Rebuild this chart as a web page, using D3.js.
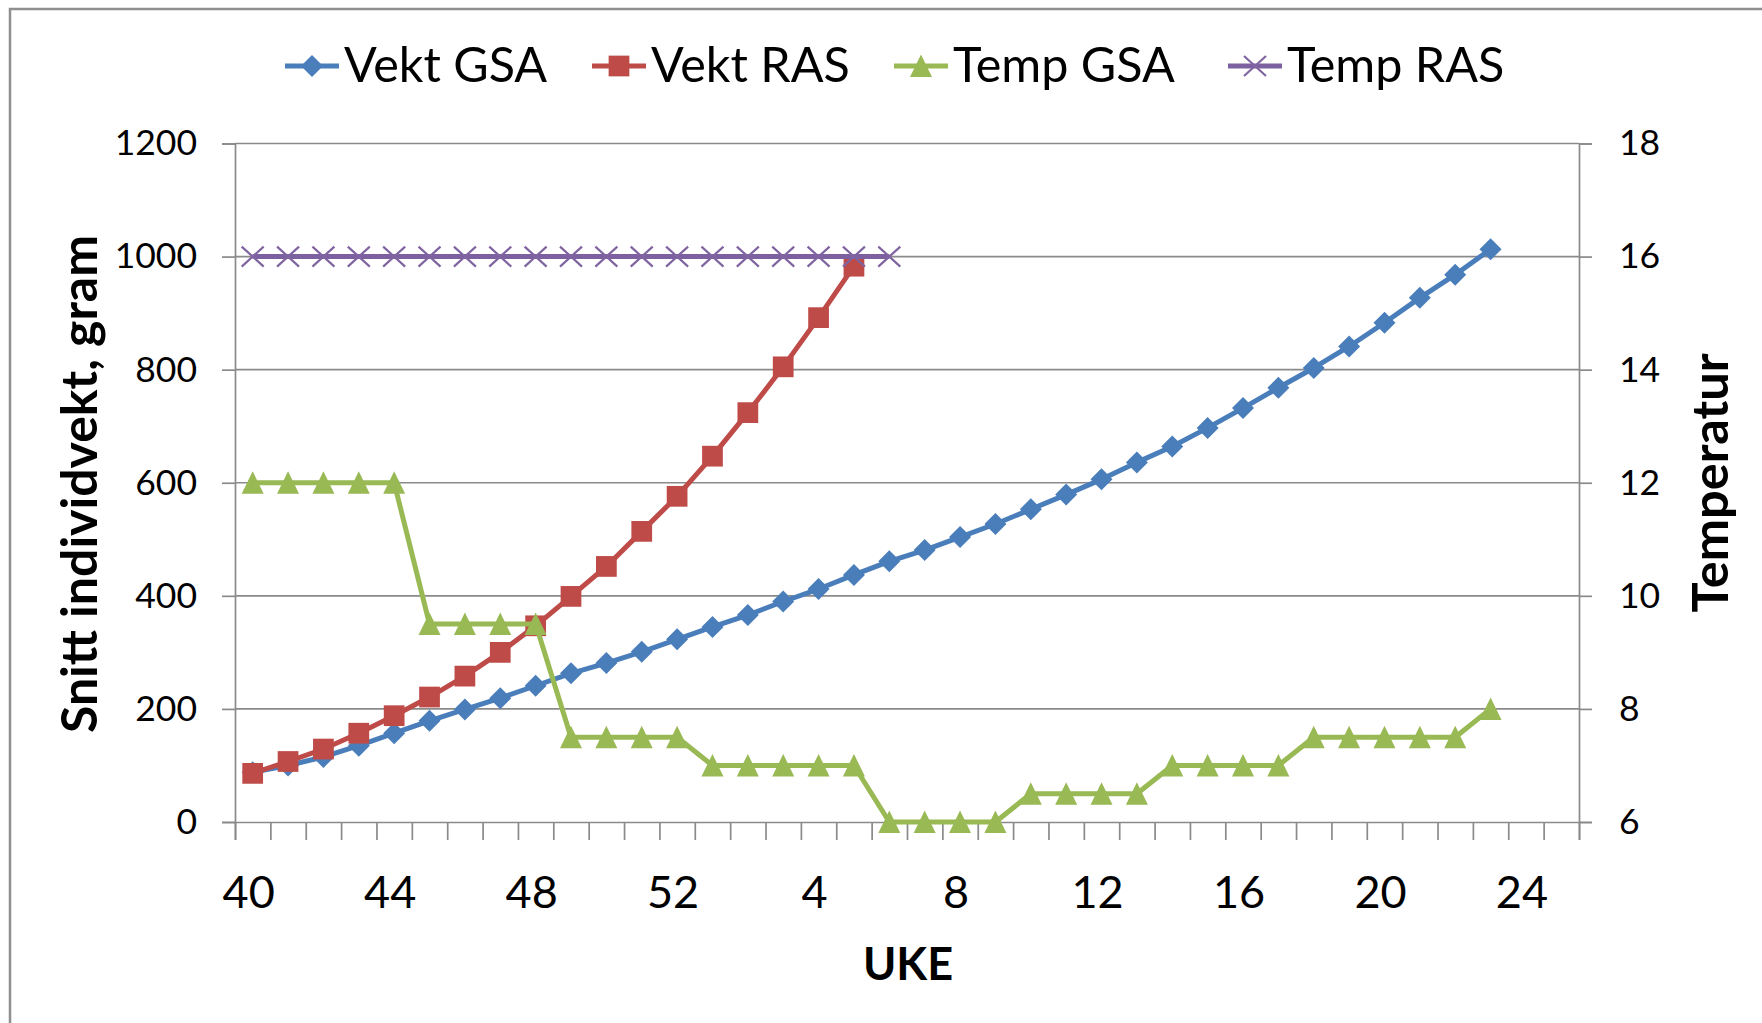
<!DOCTYPE html>
<html>
<head>
<meta charset="utf-8">
<script src="https://cdn.jsdelivr.net/npm/d3@7"></script>
<style>
  html, body { margin: 0; padding: 0; background: #fff; }
  svg { display: block; }
  text { font-family: Lato, "Open Sans", sans-serif; fill: #000; }
</style>
</head>
<body>
<svg id="chart" width="1762" height="1023"></svg>
<script>
// ---------- DATA ----------
const weeks = ["40","41","42","43","44","45","46","47","48","49","50","51","52",
  "1","2","3","4","5","6","7","8","9","10","11","12","13","14","15","16","17","18","19","20","21","22","23","24","25"];
const vektGSA = [88,100,115,135,157,179,199,219,241,263,281,301,323,345,366,390,412,437,461,481,
  504,527,553,579,606,636,664,697,732,768,803,841,883,927,968,1013];
const vektRAS = [86,107,129,157,188,221,258,300,347,399,452,514,576,647,724,805,892,983];
const tempGSA = [12,12,12,12,12,9.5,9.5,9.5,9.5,7.5,7.5,7.5,7.5,7,7,7,7,7,6,6,6,6,
  6.5,6.5,6.5,6.5,7,7,7,7,7.5,7.5,7.5,7.5,7.5,8];
const tempRAS = [16,16,16,16,16,16,16,16,16,16,16,16,16,16,16,16,16,16,16];
const leftTicks = [0,200,400,600,800,1000,1200];
const rightTicks = [6,8,10,12,14,16,18];
const xLabelWeeks = ["40","44","48","52","4","8","12","16","20","24"];
const seriesNames = ["Vekt GSA","Vekt RAS","Temp GSA","Temp RAS"];

// ---------- LAYOUT ----------
const L = 235, R = 1579, T = 143.5, B = 822;
const colors = { blue: "#4A7EBB", red: "#BE4B48", green: "#98B954", purple: "#7D60A0", purpleMark: "#8064A2" };
const gridColor = "#8a8a8a";

const svg = d3.select("#chart");

// outer chart border (cropped at right/bottom)
svg.append("rect").attr("x", 10).attr("y", 9).attr("width", 1800).attr("height", 1100)
  .attr("fill", "none").attr("stroke", "#8f8f8f").attr("stroke-width", 2.5);

const x = d3.scaleBand().domain(weeks).range([L, R]).padding(0);
const xIdx = d3.scaleLinear().domain([0, weeks.length]).range([L, R]);
const yL = d3.scaleLinear().domain([0, 1200]).range([B, T]);
const yR = d3.scaleLinear().domain([6, 18]).range([B, T]);

// gridlines
svg.append("g").selectAll("line").data(leftTicks.filter(d => d > 0)).join("line")
  .attr("x1", L).attr("x2", R).attr("y1", d => yL(d)).attr("y2", d => yL(d))
  .attr("stroke", gridColor).attr("stroke-width", 1.7);

// left axis
const gLeft = svg.append("g").attr("transform", `translate(${L},0)`)
  .call(d3.axisLeft(yL).tickValues(leftTicks).tickSize(13).tickPadding(25).tickFormat(d3.format("d")));
gLeft.selectAll("path.domain").attr("stroke", gridColor).attr("stroke-width", 1.7);
gLeft.selectAll(".tick line").attr("stroke", gridColor).attr("stroke-width", 1.7);
gLeft.selectAll("text").attr("font-size", 35.5).attr("font-family", "Lato").attr("fill", "#000");

// right axis
const gRight = svg.append("g").attr("transform", `translate(${R},0)`)
  .call(d3.axisRight(yR).tickValues(rightTicks).tickSize(13).tickPadding(27).tickFormat(d3.format("d")));
gRight.selectAll("path.domain").attr("stroke", gridColor).attr("stroke-width", 1.7);
gRight.selectAll(".tick line").attr("stroke", gridColor).attr("stroke-width", 1.7);
gRight.selectAll("text").attr("font-size", 35.5).attr("font-family", "Lato").attr("fill", "#000");

// x axis: boundary ticks
const gXt = svg.append("g").attr("transform", `translate(0,${B})`)
  .call(d3.axisBottom(xIdx).tickValues(d3.range(weeks.length + 1)).tickSize(18).tickFormat(""));
gXt.selectAll("path.domain").attr("stroke", gridColor).attr("stroke-width", 1.7);
gXt.selectAll(".tick line").attr("stroke", gridColor).attr("stroke-width", 1.7);

// x axis: labels
const gX = svg.append("g").attr("transform", `translate(0,${B})`)
  .call(d3.axisBottom(x).tickValues(xLabelWeeks).tickSize(0));
gX.select("path.domain").remove();
gX.selectAll("text").attr("font-size", 45).attr("font-family", "Lato").attr("fill", "#000")
  .attr("y", 86).attr("dy", null).attr("dx", -4);

// axis titles
svg.append("text").attr("transform", `translate(97,484) rotate(-90)`)
  .attr("text-anchor", "middle").attr("font-size", 50).attr("font-weight", "bold")
  .text("Snitt individvekt, gram");
svg.append("text").attr("transform", `translate(1728,483) rotate(-90)`)
  .attr("text-anchor", "middle").attr("font-size", 50.5).attr("font-weight", "bold")
  .text("Temperatur");
svg.append("text").attr("x", 908).attr("y", 980)
  .attr("text-anchor", "middle").attr("font-size", 45).attr("font-weight", "bold")
  .text("UKE");

// ---------- SERIES ----------
const cx = i => x(weeks[i]) + x.bandwidth() / 2;
const diamond = d3.symbol().type(d3.symbolSquare).size(242)();
const square = d3.symbol().type(d3.symbolSquare).size(430)();
const tri = "M0,-11.5L11,11L-11,11Z";
const xMark = "M-11,-10L11,10M-11,10L11,-10";

function drawSeries(values, yScale, color, markerFn, lineWidth) {
  const g = svg.append("g");
  const line = d3.line().x((d, i) => cx(i)).y(d => yScale(d));
  g.append("path").datum(values).attr("d", line).attr("fill", "none")
    .attr("stroke", color).attr("stroke-width", lineWidth).attr("stroke-linejoin", "round");
  g.selectAll("g.m").data(values).join("g").attr("class", "m")
    .attr("transform", (d, i) => `translate(${cx(i)},${yScale(d)})`)
    .each(function () { markerFn(d3.select(this)); });
}

const mDiamond = (s, c) => s.append("path").attr("d", diamond).attr("transform", "rotate(45)").attr("fill", c);
const mSquare = (s, c) => s.append("path").attr("d", square).attr("fill", c);
const mTri = (s, c) => s.append("path").attr("d", tri).attr("fill", c);
const mX = (s, c) => s.append("path").attr("d", xMark).attr("stroke", c).attr("stroke-width", 2.2).attr("fill", "none");

drawSeries(vektGSA, yL, colors.blue, s => mDiamond(s, colors.blue), 5);
drawSeries(vektRAS, yL, colors.red, s => mSquare(s, colors.red), 5);
drawSeries(tempGSA, yR, colors.green, s => mTri(s, colors.green), 5);
drawSeries(tempRAS, yR, colors.purple, s => mX(s, colors.purpleMark), 5);

// ---------- LEGEND ----------
const legendX = [285, 592, 894, 1228];
const legendColors = [colors.blue, colors.red, colors.green, colors.purple];
const legendMarkers = [mDiamond, mSquare, mTri, mX];
const legendY = 66;
seriesNames.forEach((name, i) => {
  const g = svg.append("g").attr("transform", `translate(${legendX[i]},0)`);
  g.append("line").attr("x1", 0).attr("x2", 54).attr("y1", legendY).attr("y2", legendY)
    .attr("stroke", legendColors[i]).attr("stroke-width", 5);
  const m = g.append("g").attr("transform", `translate(27,${legendY})`);
  legendMarkers[i](m, i === 3 ? colors.purpleMark : legendColors[i]);
  g.append("text").attr("x", 59).attr("y", 82).attr("font-size", 48.5).text(name);
});
</script>
</body>
</html>
